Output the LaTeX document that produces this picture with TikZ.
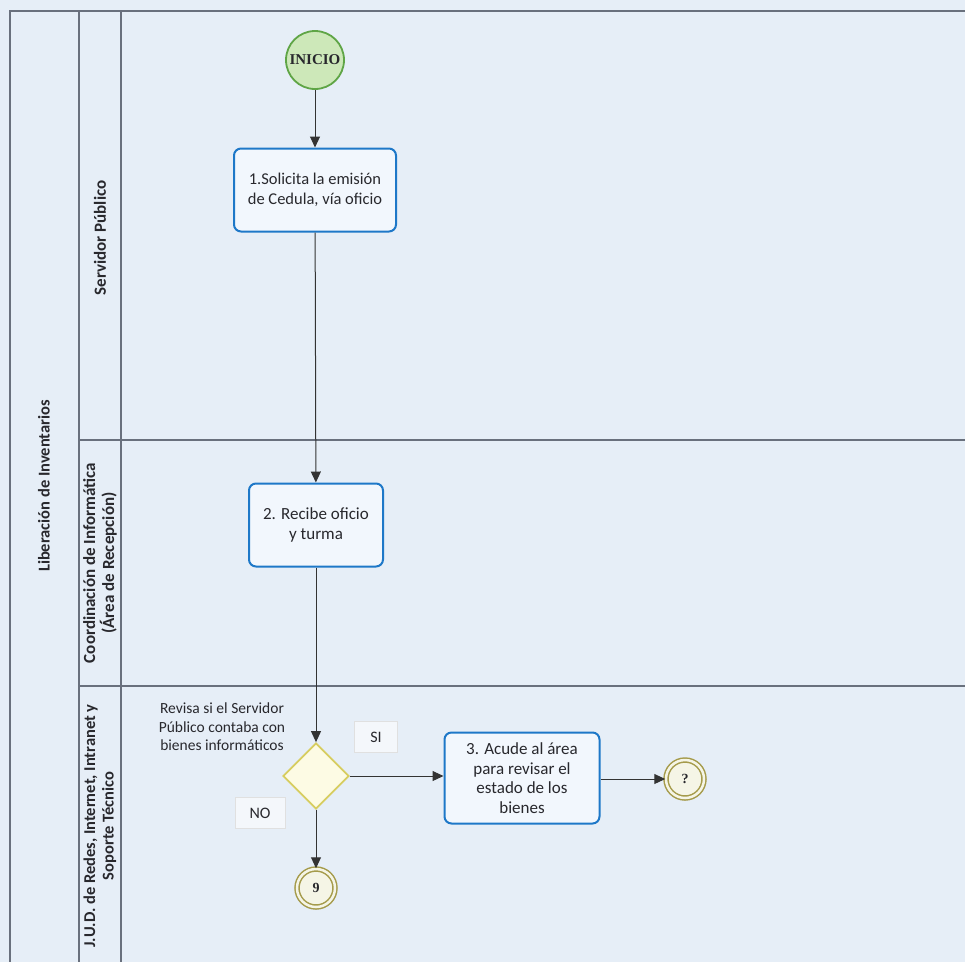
\documentclass[tikz,border=0pt]{standalone}
\usepackage{fontspec}
\setmainfont{Carlito}
\newfontfamily\serifev{Liberation Serif}
\usetikzlibrary{shapes.geometric,arrows.meta}
\definecolor{paper}{RGB}{230,238,247}
\definecolor{lanec}{RGB}{105,112,125}
\definecolor{taskb}{RGB}{30,120,200}
\definecolor{taskf}{RGB}{242,247,253}
\definecolor{startb}{RGB}{95,165,70}
\definecolor{startf}{RGB}{205,232,185}
\definecolor{gateb}{RGB}{215,205,95}
\definecolor{gatef}{RGB}{253,251,228}
\definecolor{endb}{RGB}{165,155,75}
\definecolor{endf}{RGB}{245,245,230}
\definecolor{txt}{RGB}{40,40,45}
\begin{document}
\begin{tikzpicture}[x=1pt,y=-1pt,
  lane/.style={draw=lanec,line width=1.1pt},
  task/.style={draw=taskb,fill=taskf,line width=2pt,rounded corners=7pt,minimum width=#1,align=center,text=txt,font=\fontsize{16.5}{20}\selectfont,inner sep=0pt},
  flow/.style={draw=black!80,line width=1pt,-{Triangle[length=11pt,width=10pt]}},
  endev/.style={circle,draw=endb,fill=endf,line width=1.5pt,double=endf,double distance=2.5pt,minimum size=38pt,inner sep=0pt,font=\serifev\bfseries\fontsize{14}{15}\selectfont,text=txt},
  lanelabel/.style={rotate=90,align=center,font=\bfseries\fontsize{17}{19}\selectfont,text=txt},
  lbox/.style={draw=black!12,line width=0.8pt,fill=white!55!paper,minimum width=#1,minimum height=31pt,font=\fontsize{16}{18}\selectfont,text=txt}
]
\useasboundingbox (0,0) rectangle (965,962);
\fill[paper] (0,0) rectangle (965,962);
% pool and lanes
\draw[lane] (965,11) -- (10,11) -- (10,962);
\draw[lane] (79,11) -- (79,962);
\draw[lane] (121,11) -- (121,962);
\draw[lane] (79,440) -- (965,440);
\draw[lane] (79,686) -- (965,686);
\node[lanelabel,font=\bfseries\fontsize{16.5}{19}\selectfont] (pool) at (44,486) {Liberación de Inventarios};
\node[lanelabel] (l1) at (100,238) {Servidor Público};
\node[lanelabel] (l2) at (100,563) {Coordinación de Informática\\(Área de Recepción)};
\node[lanelabel,font=\bfseries\fontsize{16.5}{18.5}\selectfont] (l3) at (100,826) {J.U.D. de Redes, Internet, Intranet y\\Soporte Técnico};
% nodes
\node[circle,draw=startb,fill=startf,line width=1.8pt,minimum size=58pt,inner sep=0pt,font=\serifev\bfseries\fontsize{15}{16}\selectfont,text=txt] (inicio) at (315,60) {INICIO};
\node[task=162pt,minimum height=83pt] (t1) at (315,190) {1.Solicita la emisión\\de Cedula, vía oficio};
\node[task=134pt,minimum height=83pt,font=\fontsize{17}{20}\selectfont] (t2) at (316,525) {2. Recibe oficio\\y turma};
\node[diamond,draw=gateb,fill=gatef,line width=1.8pt,minimum width=66pt,minimum height=66pt,inner sep=0pt] (g) at (316,776) {};
\node[align=center,font=\fontsize{15.5}{18.5}\selectfont,text=txt] (glabel) at (222,727) {Revisa si el Servidor\\Público contaba con\\bienes informáticos};
\node[lbox=43pt] (si) at (376,737) {SI};
\node[lbox=50pt] (no) at (260,813) {NO};
\node[task=155pt,minimum height=91pt,font=\fontsize{17}{19.5}\selectfont] (t3) at (522,778) {3. Acude al área\\para revisar el\\estado de los\\bienes};
\node[endev] (e1) at (685,779) {?};
\node[endev] (e2) at (316,888) {9};
% flows
\draw[flow] (inicio) -- (t1);
\draw[flow] (t1) -- (t2);
\draw[flow] (t2) -- (g);
\draw[flow] (g) -- (t3.west |- g);
\draw[flow] (t3.east |- e1) -- (e1);
\draw[flow] (g) -- (e2);
\end{tikzpicture}
\end{document}
